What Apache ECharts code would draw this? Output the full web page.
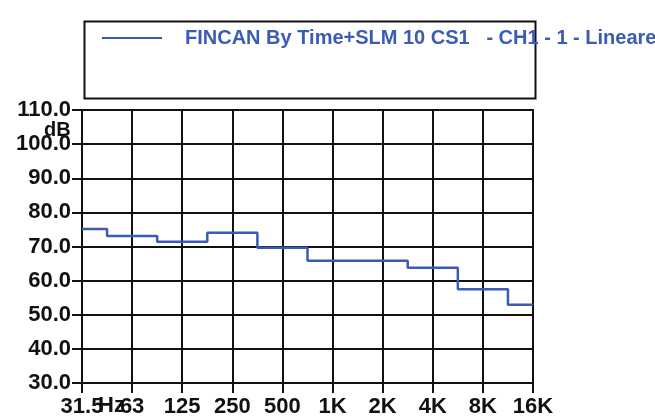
<!DOCTYPE html>
<html>
<head>
<meta charset="utf-8">
<script src="https://cdn.jsdelivr.net/npm/echarts@6/dist/echarts.min.js"></script>
<style>html,body{margin:0;padding:0;background:#fff}#c{width:655px;height:418px}</style>
</head>
<body>
<div id="c"></div>
<script>
const categories = ['31.5', '63', '125', '250', '500', '1K', '2K', '4K', '8K', '16K'];
const levels = [75.1, 73.1, 71.4, 74.0, 69.6, 65.8, 65.8, 63.8, 57.5, 52.9];
const seriesName = 'FINCAN By Time+SLM 10 CS1   - CH1 - 1 - Lineare';
const yTicks = { min: 30, max: 110, interval: 10 };

const chart = echarts.init(document.getElementById('c'), null, { renderer: 'canvas' });
const font = 'Liberation Sans, Arial, sans-serif';
chart.setOption({
  animation: false,
  backgroundColor: '#fff',
  grid: { left: 82, right: 122, top: 110, bottom: 35, show: true, borderColor: '#111', borderWidth: 2 },
  legend: {
    left: 97, top: 23, itemWidth: 60, itemHeight: 14, icon: 'path://M0,6 L60,6 L60,8 L0,8 Z',
    textStyle: { color: '#3b5bb5', fontFamily: font, fontWeight: 'bold', fontSize: 20, padding: [0, 0, 0, 18] },
    data: [seriesName]
  },
  xAxis: {
    type: 'category', data: categories, boundaryGap: false,
    axisLine: { lineStyle: { color: '#111', width: 2 } },
    axisTick: { show: true, length: 10, interval: 0, lineStyle: { color: '#111', width: 2 } },
    axisLabel: { interval: 0, color: '#111', fontFamily: font, fontWeight: 'bold', fontSize: 22, margin: 13 },
    splitLine: { show: true, interval: 0, lineStyle: { color: '#111', width: 2 } }
  },
  yAxis: {
    type: 'value', min: yTicks.min, max: yTicks.max, interval: yTicks.interval,
    axisLine: { show: true, lineStyle: { color: '#111', width: 2 } },
    axisTick: { show: true, length: 10, lineStyle: { color: '#111', width: 2 } },
    axisLabel: { color: '#111', fontFamily: font, fontWeight: 'bold', fontSize: 22, margin: 11, formatter: v => v.toFixed(1) },
    splitLine: { show: true, lineStyle: { color: '#111', width: 2 } }
  },
  graphic: [
    { type: 'rect', left: 82, top: 19, shape: { width: 451, height: 77 }, style: { fill: 'none', stroke: '#111', lineWidth: 2 }, z: 1 },
    { type: 'text', left: 44, top: 120, style: { text: 'dB', fill: '#111', font: 'bold 20px ' + font }, z: 10 },
    { type: 'text', left: 98, top: 395, style: { text: 'Hz', fill: '#111', font: 'bold 22px ' + font }, z: 10 }
  ],
  series: [{
    name: seriesName, type: 'line', step: 'middle', data: levels, symbol: 'none',
    lineStyle: { color: '#3b5bb5', width: 2.5 }, itemStyle: { color: '#3b5bb5' }, z: 5
  }]
});
</script>
</body>
</html>
